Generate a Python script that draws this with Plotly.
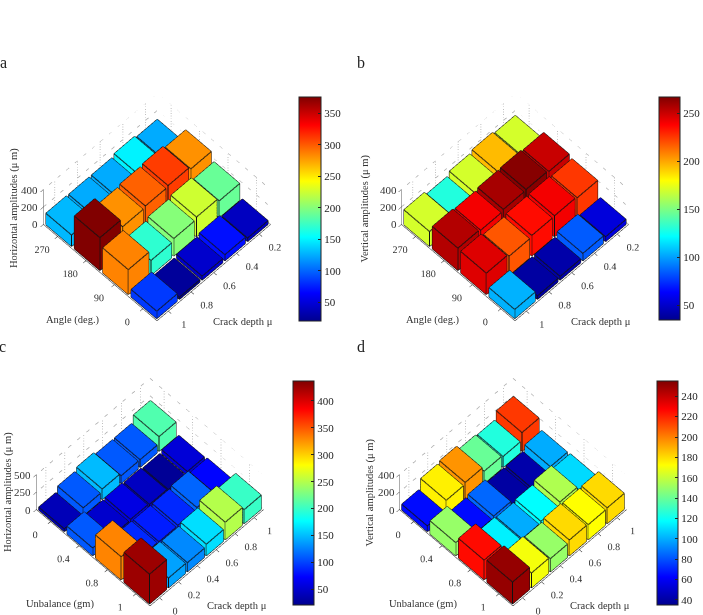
import plotly.graph_objects as go

FONT = "Liberation Serif"

# rows = left-edge axis, columns = right-edge axis
angle_labels = ["0", "90", "180", "270"]
crack_labels_ab = ["0.2", "0.4", "0.6", "0.8", "1"]
unbalance_labels = ["0", "0.4", "0.8", "1"]
crack_labels_cd = ["0", "0.2", "0.4", "0.6", "0.8", "1"]

# each row runs crack 0.2 -> 1
a_angle0 = [40, 70, 45, 25, 85]
a_angle90 = [190, 225, 200, 170, 285]
a_angle180 = [280, 310, 297, 280, 375]
a_angle270 = [125, 150, 125, 125, 130]

b_angle0 = [55, 85, 42, 40, 105]
b_angle90 = [225, 240, 235, 218, 245]
b_angle180 = [250, 265, 258, 240, 255]
b_angle270 = [170, 195, 170, 130, 170]

# each row runs crack 0 -> 1
c_unb0 = [40, 110, 150, 110, 110, 210]
c_unb04 = [110, 50, 60, 45, 25, 55]
c_unb08 = [330, 90, 85, 90, 115, 75]
c_unb1 = [425, 140, 130, 165, 250, 200]

d_unb0 = [65, 175, 195, 140, 125, 215]
d_unb04 = [150, 65, 85, 40, 42, 100]
d_unb08 = [225, 115, 100, 118, 155, 110]
d_unb1 = [250, 170, 150, 180, 172, 180]

W, H = 703, 615
ELEV_EYE = (0.53, 0.53, 1.20)
ASPECT = 1.19
ZRATIO = 0.41
JET = [[0, "#00008f"], [0.125, "#0000ff"], [0.375, "#00ffff"], [0.625, "#ffff00"],
       [0.875, "#ff0000"], [1, "#800000"]]

panels = [
    dict(rows=[a_angle0, a_angle90, a_angle180, a_angle270], xl=angle_labels, yl=crack_labels_ab,
         zt=[0, 200, 400], sx=-1, c=(157, 207), dc=207, cb=(299, 321, 97, 321), cr=(20, 376), cbt=[50, 100, 150, 200, 250, 300, 350],
         ztitle="Horizontal amplitudes (μ m)", zpos=(14, 208), xt="Angle (deg.)", xtp=(73, 320), yt="Crack depth μ", ytp=(243, 321),
         letter="a", lp=(4, 62)),
    dict(rows=[b_angle0, b_angle90, b_angle180, b_angle270], xl=angle_labels, yl=crack_labels_ab,
         zt=[0, 200, 400], sx=-1, c=(516, 207), dc=207, cb=(659, 680, 97, 320), cr=(35, 267), cbt=[50, 100, 150, 200, 250],
         ztitle="Vertical amplitudes (μ m)", zpos=(366, 208), xt="Angle (deg.)", xtp=(434, 320), yt="Crack depth μ", ytp=(602, 321),
         letter="b", lp=(362, 62)),
    dict(rows=[c_unb0, c_unb04, c_unb08, c_unb1], xl=unbalance_labels, yl=crack_labels_cd,
         zt=[0, 250, 500], sx=1, c=(150, 491), dc=480, cb=(293, 314, 381, 605), cr=(21, 437), cbt=[50, 100, 150, 200, 250, 300, 350, 400],
         ztitle="Horizontal amplitudes (μ m)", zpos=(8, 492), xt="Unbalance (gm)", xtp=(60, 604), yt="Crack depth μ", ytp=(237, 605),
         letter="c", lp=(3, 346)),
    dict(rows=[d_unb0, d_unb04, d_unb08, d_unb1], xl=unbalance_labels, yl=crack_labels_cd,
         zt=[0, 200, 400], sx=1, c=(514, 491), dc=480, cb=(657, 678, 381, 605), cr=(35, 255), cbt=[40, 60, 80, 100, 120, 140, 160, 180, 200, 220, 240],
         ztitle="Vertical amplitudes (μ m)", zpos=(371, 492), xt="Unbalance (gm)", xtp=(424, 604), yt="Crack depth μ", ytp=(601, 605),
         letter="d", lp=(362, 346)),
]

fig = go.Figure()
SIZE = 270
WIDE = 290
FACES = [(0,1,2),(0,2,3),(4,5,6),(4,6,7),(0,1,5),(0,5,4),(1,2,6),(1,6,5),(2,3,7),(2,7,6),(3,0,4),(3,4,7)]
EDGES = [(0,1),(1,2),(2,3),(3,0),(4,5),(5,6),(6,7),(7,4),(0,4),(1,5),(2,6),(3,7)]
annos = []
layout = {}
for n, p in enumerate(panels):
    sid = "scene" if n == 0 else f"scene{n+1}"
    vx, vy, vz, I, J, K, inten = [], [], [], [], [], [], []
    ex, ey, ez = [], [], []
    hw = 0.45
    for r, row in enumerate(p["rows"]):
        for c, v in enumerate(row):
            x0, x1, y0, y1 = r + 1 - hw, r + 1 + hw, c + 1 - hw, c + 1 + hw
            b = len(vx)
            corners = [(x0,y0,0),(x1,y0,0),(x1,y1,0),(x0,y1,0),(x0,y0,v),(x1,y0,v),(x1,y1,v),(x0,y1,v)]
            for q in corners:
                vx.append(q[0]); vy.append(q[1]); vz.append(q[2])
            for f in FACES:
                I.append(b+f[0]); J.append(b+f[1]); K.append(b+f[2]); inten.append(v)
            for e in EDGES:
                for idx in e:
                    ex.append(corners[idx][0]); ey.append(corners[idx][1]); ez.append(corners[idx][2])
                ex.append(None); ey.append(None); ez.append(None)
    x_n, y_n = len(p["xl"]), len(p["yl"])
    xr, yr = [0.5, x_n + 0.5], [0.5, y_n + 0.5]
    ztop = p["zt"][-1]
    cb = p["cb"]
    fig.add_trace(go.Mesh3d(
        x=vx, y=vy, z=vz, i=I, j=J, k=K, intensity=inten, intensitymode="cell",
        colorscale=JET, cmin=p["cr"][0], cmax=p["cr"][1], flatshading=True,
        lighting=dict(ambient=1, diffuse=0, specular=0, fresnel=0, roughness=1),
        hoverinfo="skip", scene=sid,
        colorbar=dict(x=cb[0]/W, xanchor="left", xpad=0, ypad=0, y=1-(cb[2]+cb[3])/2/H, yanchor="middle",
                      len=(cb[3]-cb[2])/H, lenmode="fraction", thickness=cb[1]-cb[0], thicknessmode="pixels",
                      outlinecolor="#222", outlinewidth=1, tickvals=p["cbt"], ticks="inside", ticklen=3,
                      tickcolor="#222", tickfont=dict(family=FONT, size=11, color="#222"))))
    fig.add_trace(go.Scatter3d(x=ex, y=ey, z=ez, mode="lines", line=dict(color="#111", width=2),
                               hoverinfo="skip", showlegend=False, scene=sid))
    # dotted back walls
    back_x = xr[1] if p["sx"] < 0 else xr[0]
    back_y = yr[0] if p["sx"] < 0 else yr[1]
    gx, gy, gz = [], [], []
    for i in range(1, x_n + 1):
        gx += [i, i, None]; gy += [back_y, back_y, None]; gz += [0, ztop, None]
    for j in range(1, y_n + 1):
        gx += [back_x, back_x, None]; gy += [j, j, None]; gz += [0, ztop, None]
    for z in p["zt"]:
        gx += [xr[0], xr[1], None]; gy += [back_y, back_y, None]; gz += [z, z, None]
        gx += [back_x, back_x, None]; gy += [yr[0], yr[1], None]; gz += [z, z, None]
    fig.add_trace(go.Scatter3d(x=gx, y=gy, z=gz, mode="lines", line=dict(color="#aaaaaa", width=1.5, dash="dot"),
                               hoverinfo="skip", showlegend=False, scene=sid))
    axc = dict(showbackground=False, showgrid=False, zeroline=False, showline=True, linecolor="#222", linewidth=1,
               ticks="outside", ticklen=4, tickcolor="#222", title=dict(text=""), showspikes=False, tickangle=0,
               tickfont=dict(family=FONT, size=11, color="#333"))
    cx, cy = p["c"]
    dc = p["dc"]
    shift = (cy-dc)/65.0
    left_x = xr[1] if p["sx"] < 0 else xr[0]
    left_y = yr[1] if p["sx"] < 0 else yr[0]
    zlabels = [dict(x=left_x, y=left_y, z=z, text=str(z), showarrow=False, xanchor="right", xshift=-3,
                    font=dict(family=FONT, size=11, color="#333")) for z in p["zt"]]
    layout[sid] = dict(
        domain=dict(x=[max(0, (cx-WIDE/2))/W, (cx+WIDE/2)/W], y=[1-(dc+SIZE/2)/H, 1-(dc-SIZE/2)/H]),
        xaxis=dict(range=xr, tickvals=list(range(1, x_n+1)), ticktext=p["xl"], **axc),
        yaxis=dict(range=yr, tickvals=list(range(1, y_n+1)), ticktext=p["yl"], **axc),
        zaxis=dict(range=[0, ztop], tickvals=p["zt"], **{**axc, "showticklabels": False}),
        aspectmode="manual", aspectratio=dict(x=ASPECT, y=ASPECT, z=ZRATIO*ASPECT),
        annotations=zlabels,
        camera=dict(projection=dict(type="orthographic"), up=dict(x=0, y=0, z=1),
                    center=dict(x=0, y=0, z=shift),
                    eye=dict(x=p["sx"]*ELEV_EYE[0], y=-p["sx"]*ELEV_EYE[1], z=ELEV_EYE[2] + shift)),
    )
    tf = dict(family=FONT, size=10.5, color="#333")
    annos.append(dict(text=p["ztitle"], x=p["zpos"][0]/W, y=1-p["zpos"][1]/H, textangle=-90, font=tf))
    annos.append(dict(text=p["xt"], x=p["xtp"][0]/W, y=1-p["xtp"][1]/H, font=tf))
    annos.append(dict(text=p["yt"], x=p["ytp"][0]/W, y=1-p["ytp"][1]/H, font=tf))
    annos.append(dict(text=p["letter"], x=p["lp"][0]/W, y=1-p["lp"][1]/H, font=dict(family=FONT, size=16, color="#222")))
for a in annos:
    a.update(xref="paper", yref="paper", showarrow=False, xanchor="center", yanchor="middle")

fig.update_layout(width=W, height=H, margin=dict(l=0, r=0, t=0, b=0), paper_bgcolor="white",
                  showlegend=False, annotations=annos, **layout)
fig.write_html("out.html", config={"displayModeBar": False},
               post_script="document.body.style.margin='0';document.documentElement.style.overflow='hidden';")
